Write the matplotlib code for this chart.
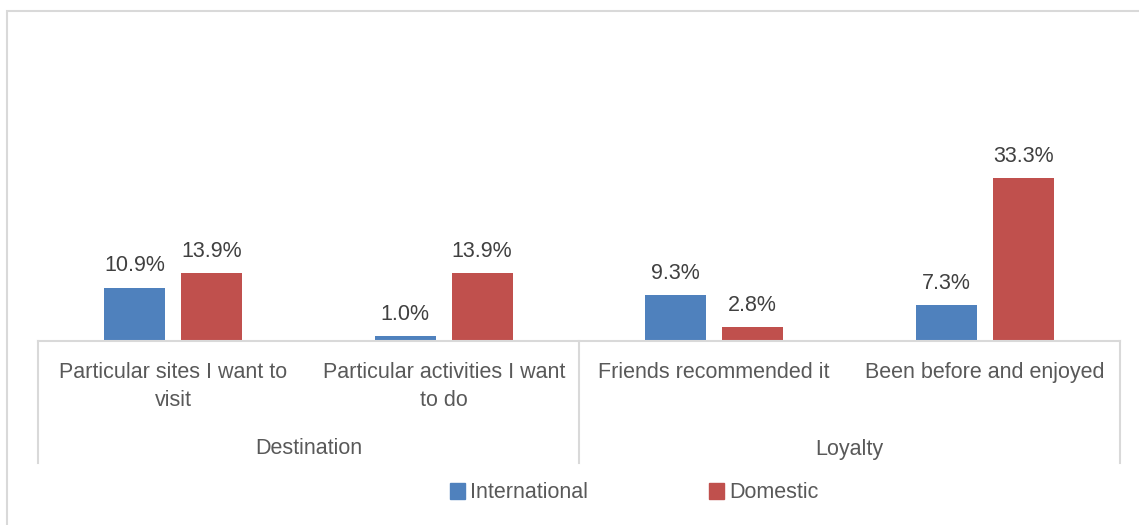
import matplotlib.pyplot as plt
from matplotlib.patches import Rectangle, Patch
import numpy as np

plt.rcParams['font.family'] = ['Liberation Sans', 'DejaVu Sans']

# 数据
categories = ['Particular sites I want to\nvisit', 'Particular activities I want\nto do',
              'Friends recommended it', 'Been before and enjoyed']
groups = ['Destination', 'Loyalty']
group_sizes = [2, 2]
international = [10.9, 1.0, 9.3, 7.3]
domestic = [13.9, 13.9, 2.8, 33.3]

color_int = '#4F81BD'
color_dom = '#C0504D'
grid_col = '#D9D9D9'
text_col = '#595959'
fs = 15.5

W, H = 1139, 525
fig = plt.figure(figsize=(W / 100, H / 100), dpi=100)

# 图表外框
fig.patches.append(Rectangle((7 / W, -0.1), 1.2, (H - 11) / H + 0.1, transform=fig.transFigure,
                             fill=False, edgecolor=grid_col, linewidth=1.5))

# 绘图区 (像素位置)
x0, x1, y_base, y_top = 38, 1120, 341, 145
ax = fig.add_axes([x0 / W, (H - y_base) / H, (x1 - x0) / W, (y_base - y_top) / H])
ax_h = y_base - y_top


def ay(py):
    # 像素 y 转为坐标轴比例
    return -(py - y_base) / ax_h


x = np.arange(len(categories))
bw = 0.225
off = 0.142
b1 = ax.bar(x - off, international, bw, color=color_int, label='International')
b2 = ax.bar(x + off, domestic, bw, color=color_dom, label='Domestic')
for bars, vals in ((b1, international), (b2, domestic)):
    for b, v in zip(bars, vals):
        ax.annotate(f'{v:.1f}%', (b.get_x() + b.get_width() / 2, v), xytext=(0, 8),
                    textcoords='offset points', ha='center', va='bottom',
                    fontsize=fs, color='#404040')

ax.set_xlim(-0.5, len(categories) - 0.5)
ax.set_ylim(0, 40)
ax.axis('off')

# 多级分类轴
tr = ax.get_xaxis_transform()
ax.plot([-0.5, len(categories) - 0.5], [0, 0], color=grid_col, lw=1.5, transform=tr, clip_on=False)
bounds = np.concatenate([[0], np.cumsum(group_sizes)]) - 0.5
for b in bounds:
    ax.plot([b, b], [0, ay(463)], color=grid_col, lw=1.5, transform=tr, clip_on=False)
for i, c in enumerate(categories):
    ax.text(i, ay(362), c, transform=tr, ha='center', va='top', fontsize=fs,
            color=text_col, linespacing=1.45)
for g, a, b in zip(groups, bounds[:-1], bounds[1:]):
    ax.text((a + b) / 2, ay(449), g, transform=tr, ha='center', va='center',
            fontsize=fs, color=text_col)

# 图例
handles = [Patch(color=color_int, label='International'), Patch(color=color_dom, label='Domestic')]
fig.legend(handles=handles, loc='center', bbox_to_anchor=(634 / W, (H - 493) / H), ncol=2,
           frameon=False, fontsize=fs, labelcolor=text_col, handlelength=0.7, handleheight=0.7,
           handletextpad=0.25, columnspacing=5.6)

fig.savefig('out.png', dpi=100)
